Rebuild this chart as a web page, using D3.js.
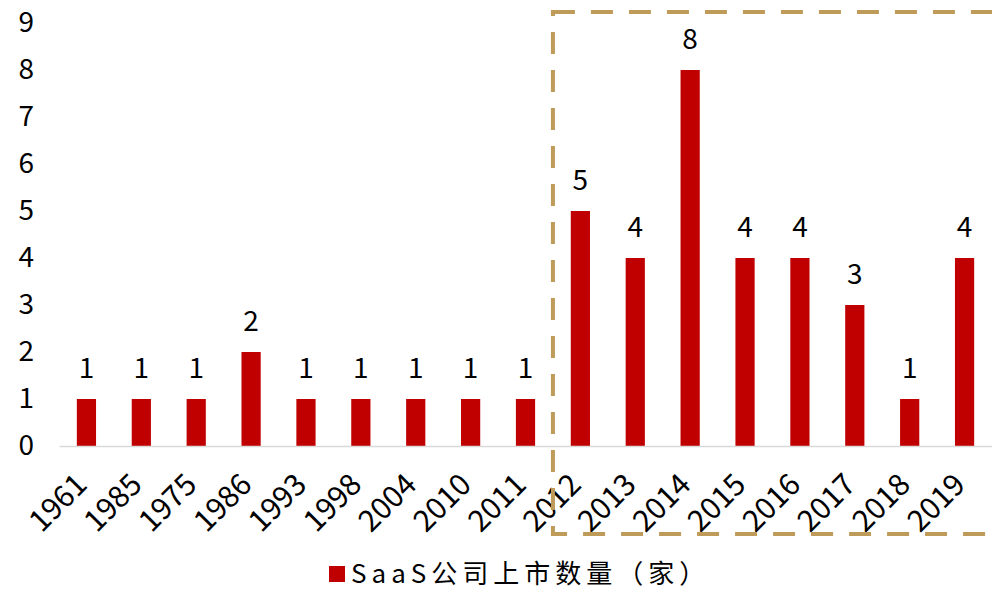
<!DOCTYPE html>
<html>
<head>
<meta charset="utf-8">
<script src="https://cdn.jsdelivr.net/npm/d3@7"></script>
<style>
  body { margin: 0; background: #fff; }
  text { font-family: "Noto Sans CJK SC", "Noto Sans", sans-serif; fill: #000; }
</style>
</head>
<body>
<script>
const years = ["1961", "1985", "1975", "1986", "1993", "1998", "2004", "2010", "2011",
  "2012", "2013", "2014", "2015", "2016", "2017", "2018", "2019"];
const counts = [1, 1, 1, 2, 1, 1, 1, 1, 1, 5, 4, 8, 4, 4, 3, 1, 4];
const yTicks = [0, 1, 2, 3, 4, 5, 6, 7, 8, 9];
const seriesName = "SaaS公司上市数量（家）";
const highlightFrom = "2012";

const width = 992;
const height = 589;

const svg = d3.select("body")
  .append("svg")
  .attr("width", width)
  .attr("height", height);

const x = d3.scaleBand()
  .domain(years)
  .range([59, 992])
  .paddingInner(0.65)
  .paddingOuter(0.325);

const y = d3.scaleLinear()
  .domain([0, 9])
  .range([446, 23]);

// bars
svg.append("g")
  .selectAll("rect")
  .data(years)
  .join("rect")
  .attr("x", d => x(d))
  .attr("y", (d, i) => y(counts[i]))
  .attr("width", x.bandwidth())
  .attr("height", (d, i) => y(0) - y(counts[i]))
  .attr("fill", "#C00000");

// value labels
svg.append("g")
  .selectAll("text")
  .data(years)
  .join("text")
  .attr("x", d => x(d) + x.bandwidth() / 2)
  .attr("y", (d, i) => y(counts[i]) - 21)
  .attr("text-anchor", "middle")
  .style("font-size", "28px")
  .text((d, i) => counts[i]);

// x axis
const xAxis = d3.axisBottom(x).tickSize(0).tickPadding(0);
const gx = svg.append("g")
  .attr("transform", "translate(0," + y(0) + ")")
  .call(xAxis);
gx.select(".domain").attr("stroke", "#D9D9D9").attr("stroke-width", 1.5);
gx.selectAll("text")
  .attr("transform", "translate(-5,33) rotate(-45)")
  .attr("text-anchor", "end")
  .attr("dy", "0.35em")
  .attr("y", 0)
  .style("font-size", "30px")
  .style("font-family", "'Noto Sans CJK SC', sans-serif");

// y axis (labels only)
const yAxis = d3.axisLeft(y).tickValues(yTicks).tickSize(0).tickPadding(0);
const gy = svg.append("g")
  .attr("transform", "translate(34,0)")
  .call(yAxis);
gy.select(".domain").remove();
gy.selectAll("text")
  .style("font-size", "28px")
  .style("font-family", "'Noto Sans CJK SC', sans-serif");

// dashed highlight box
const boxLeft = x(highlightFrom) - (x.step() - x.bandwidth()) / 2;
svg.append("rect")
  .attr("x", boxLeft)
  .attr("y", 12)
  .attr("width", 992 - boxLeft + 10)
  .attr("height", 534 - 12)
  .attr("fill", "none")
  .attr("stroke", "#BF9B5A")
  .attr("stroke-width", 4)
  .attr("stroke-dasharray", "22,16");

// legend
const legend = svg.append("g").attr("transform", "translate(329,566)");
legend.append("rect")
  .attr("width", 16)
  .attr("height", 16)
  .attr("fill", "#C00000");
legend.append("text")
  .attr("x", 22)
  .attr("y", 8)
  .attr("dy", "0.35em")
  .style("font-size", "26px")
  .style("letter-spacing", "5px")
  .text(seriesName);
</script>
</body>
</html>
